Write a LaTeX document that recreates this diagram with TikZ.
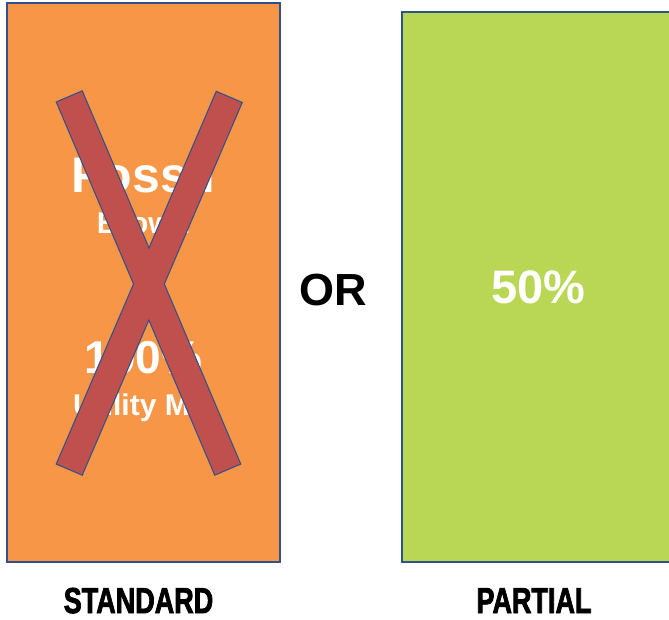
\documentclass[tikz,border=0pt]{standalone}
\usepackage{fontspec}
\setmainfont{Liberation Sans}
\newfontfamily\heavyfont[FakeBold=2.5]{Liberation Sans Bold}
\definecolor{orangefill}{RGB}{247,150,70}
\definecolor{greenfill}{RGB}{185,214,84}
\definecolor{boxline}{RGB}{47,82,143}
\definecolor{xred}{RGB}{192,80,77}
\begin{document}
\begin{tikzpicture}[x=1pt,y=-1pt,
  panel/.style={draw=boxline,line width=2pt},
  bigtxt/.style={text=white,font=\bfseries,inner sep=0pt,anchor=base},
  labeltxt/.style={text=black,font=\bfseries,inner sep=0pt,anchor=base},
  headtxt/.style={text=black,font=\heavyfont,inner sep=0pt,anchor=base},
  xbar/.style={fill=xred,draw=boxline,line width=2.4pt,line join=miter},
  xbarfill/.style={fill=xred}]
\useasboundingbox (0,0) rectangle (669,619);
\begin{scope}
\clip (0,0) rectangle (669,619);
% panels
\draw[panel,fill=orangefill] (7,3) rectangle (280,562);
\draw[panel,fill=greenfill] (402,12) rectangle (675,562);
\end{scope}
% texts in standard panel
\node[bigtxt] (fossil) at (143.5,192) {\fontsize{50}{60}\selectfont Fossil};
\node[bigtxt] (brown) at (143.5,233) {\fontsize{30}{36}\selectfont Brown};
\node[bigtxt] (hundred) at (143.5,373) {\fontsize{46}{55}\selectfont 100\%};
\node[bigtxt] (mix) at (144,415) {\fontsize{30}{36}\selectfont Utility Mix};
% X
\coordinate (a1) at (81.9,91.7);
\coordinate (a2) at (239.9,463.7);
\coordinate (a3) at (215.1,474.3);
\coordinate (a4) at (57.1,102.3);
\coordinate (b1) at (216.6,92.2);
\coordinate (b2) at (241.4,102.8);
\coordinate (b3) at (81.9,474.3);
\coordinate (b4) at (57.1,463.7);
\draw[xbar] (a1) -- (a2) -- (a3) -- (a4) -- cycle;
\draw[xbar] (b1) -- (b2) -- (b3) -- (b4) -- cycle;
\fill[xbarfill] (a1) -- (a2) -- (a3) -- (a4) -- cycle;
\fill[xbarfill] (b1) -- (b2) -- (b3) -- (b4) -- cycle;
% middle and partial
\node[labeltxt] (or) at (333.5,305) {\fontsize{45}{54}\selectfont OR};
\node[bigtxt] (fifty) at (538.5,303) {\fontsize{47}{56}\selectfont 50\%};
% bottom labels
\node[headtxt] (standard) at (138.5,613) {\fontsize{36}{43}\selectfont\scalebox{0.75}[1]{STANDARD}};
\node[headtxt] (partial) at (534,613) {\fontsize{36}{43}\selectfont\scalebox{0.75}[1]{PARTIAL}};
\end{tikzpicture}
\end{document}
